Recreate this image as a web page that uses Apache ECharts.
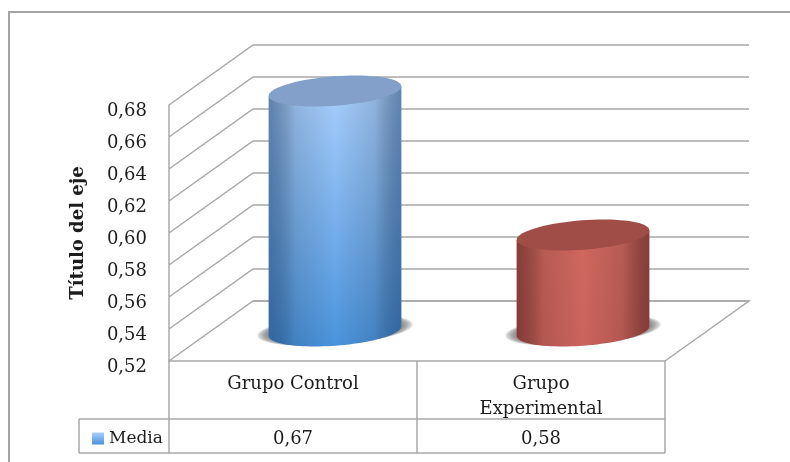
<!DOCTYPE html>
<html><head><meta charset="utf-8">
<style>html,body{margin:0;padding:0;background:#fff}#c{width:790px;height:462px}</style>
<script src="https://cdn.jsdelivr.net/npm/echarts@6/dist/echarts.min.js"></script>
</head><body><div id="c"></div>
<script>
const categories = ['Grupo Control', 'Grupo\nExperimental'];
const seriesName = 'Media';
const mediaValues = [0.67, 0.58];
const valueLabels = ['0,67', '0,58'];
const yTicks = [0.52, 0.54, 0.56, 0.58, 0.60, 0.62, 0.64, 0.66, 0.68];
const axisTitle = 'Título del eje';

const FONT = '"DejaVu Serif", serif';
const FS = 18;
const INK = '#1c1c1c', LINE = '#a8a8a8';
const DX = 84, DY = -60;           // depth of the 3D box
const RX = 66.5, RY = 14.7, TILT = 0.075;
const looks = [
  {top:'#82a0c9', v:['#a9cffd','#4a93dc'], edge:'rgba(24,58,104,0.5)'},
  {top:'#a04d47', v:['#d0685f','#cb635c'], edge:'rgba(70,20,20,0.52)'}
];
const stroke = {stroke: LINE, lineWidth: 1.5, fill: null};

function wallItem(params, api) {
  const cs = params.coordSys;
  const y = api.coord([0, api.value(1)])[1];
  const L = cs.x, R = cs.x + cs.width;
  const children = [{type:'polyline', shape:{points:[[L,y],[L+DX,y+DY],[R+DX,y+DY]]}, style:stroke}];
  if (params.dataIndex === 0) {
    children.push({type:'polyline', shape:{points:[[L+DX,y+DY],[R+DX,y+DY],[R,y]]}, style:stroke});
  }
  return {type:'group', children};
}
function ellipsePoint(cx, cy, t, grow) {
  const g = grow || 1;
  const ex = g * RX * Math.cos(t), ey = RY * Math.sin(t);
  return [cx + ex*Math.cos(TILT) + ey*Math.sin(TILT), cy - ex*Math.sin(TILT) + ey*Math.cos(TILT)];
}
function cylinderItem(params, api) {
  const i = params.dataIndex, look = looks[i];
  const cs = params.coordSys;
  const topP = api.coord([api.value(0), api.value(1)]);
  const cx = topP[0] + DX/2, topY = topP[1] + DY/2;
  const baseY = cs.y + cs.height + DY/2;
  const body = [];
  for (let k = 0; k <= 48; k++) body.push(ellipsePoint(cx, baseY, Math.PI - Math.PI*k/48 ));
  const pts = body.concat([ellipsePoint(cx, topY, 0), ellipsePoint(cx, topY, Math.PI)]);
  const topRing = [];
  for (let k = 0; k < 72; k++) topRing.push(ellipsePoint(cx, topY, 2*Math.PI*k/72));
  const children = [];
  for (let s = 8; s >= 1; s--) {
    const ring = [];
    for (let k = 0; k < 72; k++) ring.push(ellipsePoint(cx, baseY - 1, 2*Math.PI*k/72, 1 + s*0.022));
    children.push({type:'polygon', shape:{points:ring}, style:{fill:'rgba(110,110,110,0.16)'}});
  }
  children.push(
    {type:'polygon', shape:{points:pts}, style:{fill:{type:'linear',x:0,y:0,x2:0,y2:1,colorStops:[{offset:0,color:look.v[0]},{offset:1,color:look.v[1]}]}}},
    {type:'polygon', shape:{points:pts}, style:{fill:{type:'linear',x:0,y:0,x2:1,y2:0,colorStops:[
      {offset:0,color:look.edge},{offset:0.2,color:'rgba(0,0,0,0.12)'},{offset:0.5,color:'rgba(0,0,0,0)'},{offset:0.8,color:'rgba(0,0,0,0.12)'},{offset:1,color:look.edge}]}}},
    {type:'polygon', shape:{points:topRing}, style:{fill:look.top}}
  );
  return {type:'group', children};
}
function tableItem(params, api) {
  const cs = params.coordSys, i = params.dataIndex;
  const c = api.coord([i, cs.y]);
  const B = cs.y + cs.height, L = cs.x, R = cs.x + cs.width;
  const cw = cs.width / categories.length;
  const children = [
    {type:'line', shape:{x1:L+cw*(i+1), y1:B, x2:L+cw*(i+1), y2:B+92}, style:stroke},
    {type:'text', x:c[0], y:B+78, style:{text:valueLabels[i], font:FS+'px '+FONT, fill:INK, align:'center', verticalAlign:'middle'}}
  ];
  if (i === 0) {
    children.push({type:'line', shape:{x1:L-90, y1:B+58, x2:R, y2:B+58}, style:stroke});
    children.push({type:'line', shape:{x1:L-90, y1:B+92, x2:R, y2:B+92}, style:stroke});
    children.push({type:'line', shape:{x1:L-90, y1:B+58, x2:L-90, y2:B+92}, style:stroke});
    children.push({type:'line', shape:{x1:L, y1:B, x2:L, y2:B+92}, style:stroke});
  }
  return {type:'group', children};
}

const chart = echarts.init(document.getElementById('c'), null, {renderer:'canvas'});
chart.setOption({
  animation:false,
  backgroundColor:'#fff',
  grid:{left:169, top:105, width:496, height:256, containLabel:false},
  graphic:[{type:'polyline', z:-1, shape:{points:[[9,462],[9,12],[790,12]]}, style:{stroke:'#a3a3a3', lineWidth:2, fill:null}}],
  legend:{data:[{name:seriesName, icon:'rect', itemStyle:{color:{type:'linear',x:0,y:0,x2:0,y2:1,colorStops:[{offset:0,color:'#a9cffd'},{offset:1,color:'#4a93dc'}]}}}],
    left:87, top:425, itemWidth:12, itemHeight:12, itemGap:4, selectedMode:false,
    textStyle:{fontFamily:FONT, fontSize:17, color:INK}},
  xAxis:{type:'category', data:categories, axisTick:{show:false},
    axisLine:{show:true, lineStyle:{color:LINE, width:1.5}},
    axisLabel:{fontFamily:FONT, fontSize:FS, color:INK, margin:11, lineHeight:25, interval:0, verticalAlign:'top'}},
  yAxis:{type:'value', min:0.52, max:0.68, interval:0.02, name:axisTitle, nameLocation:'middle', nameGap:82,
    nameTextStyle:{fontFamily:FONT, fontSize:18, fontWeight:'bold', color:INK},
    axisTick:{show:false}, splitLine:{show:false},
    axisLine:{show:true, lineStyle:{color:LINE, width:1.5}},
    axisLabel:{fontFamily:FONT, fontSize:FS, color:INK, margin:22, verticalAlign:'top', lineHeight:12, formatter:v=>v.toFixed(2).replace('.',',')}},
  series:[
    {type:'custom', name:'walls', z:1, silent:true, renderItem:wallItem, data:yTicks.map(t=>[0,t]), encode:{x:0,y:1}},
    {type:'custom', name:'table', z:1, silent:true, renderItem:tableItem, data:categories.map((c,i)=>[i,mediaValues[i]]), encode:{x:0,y:1}},
    {type:'custom', name:seriesName, z:3, silent:true, renderItem:cylinderItem, data:mediaValues.map((v,i)=>[i,v]), encode:{x:0,y:1}}
  ]
});
</script></body></html>
